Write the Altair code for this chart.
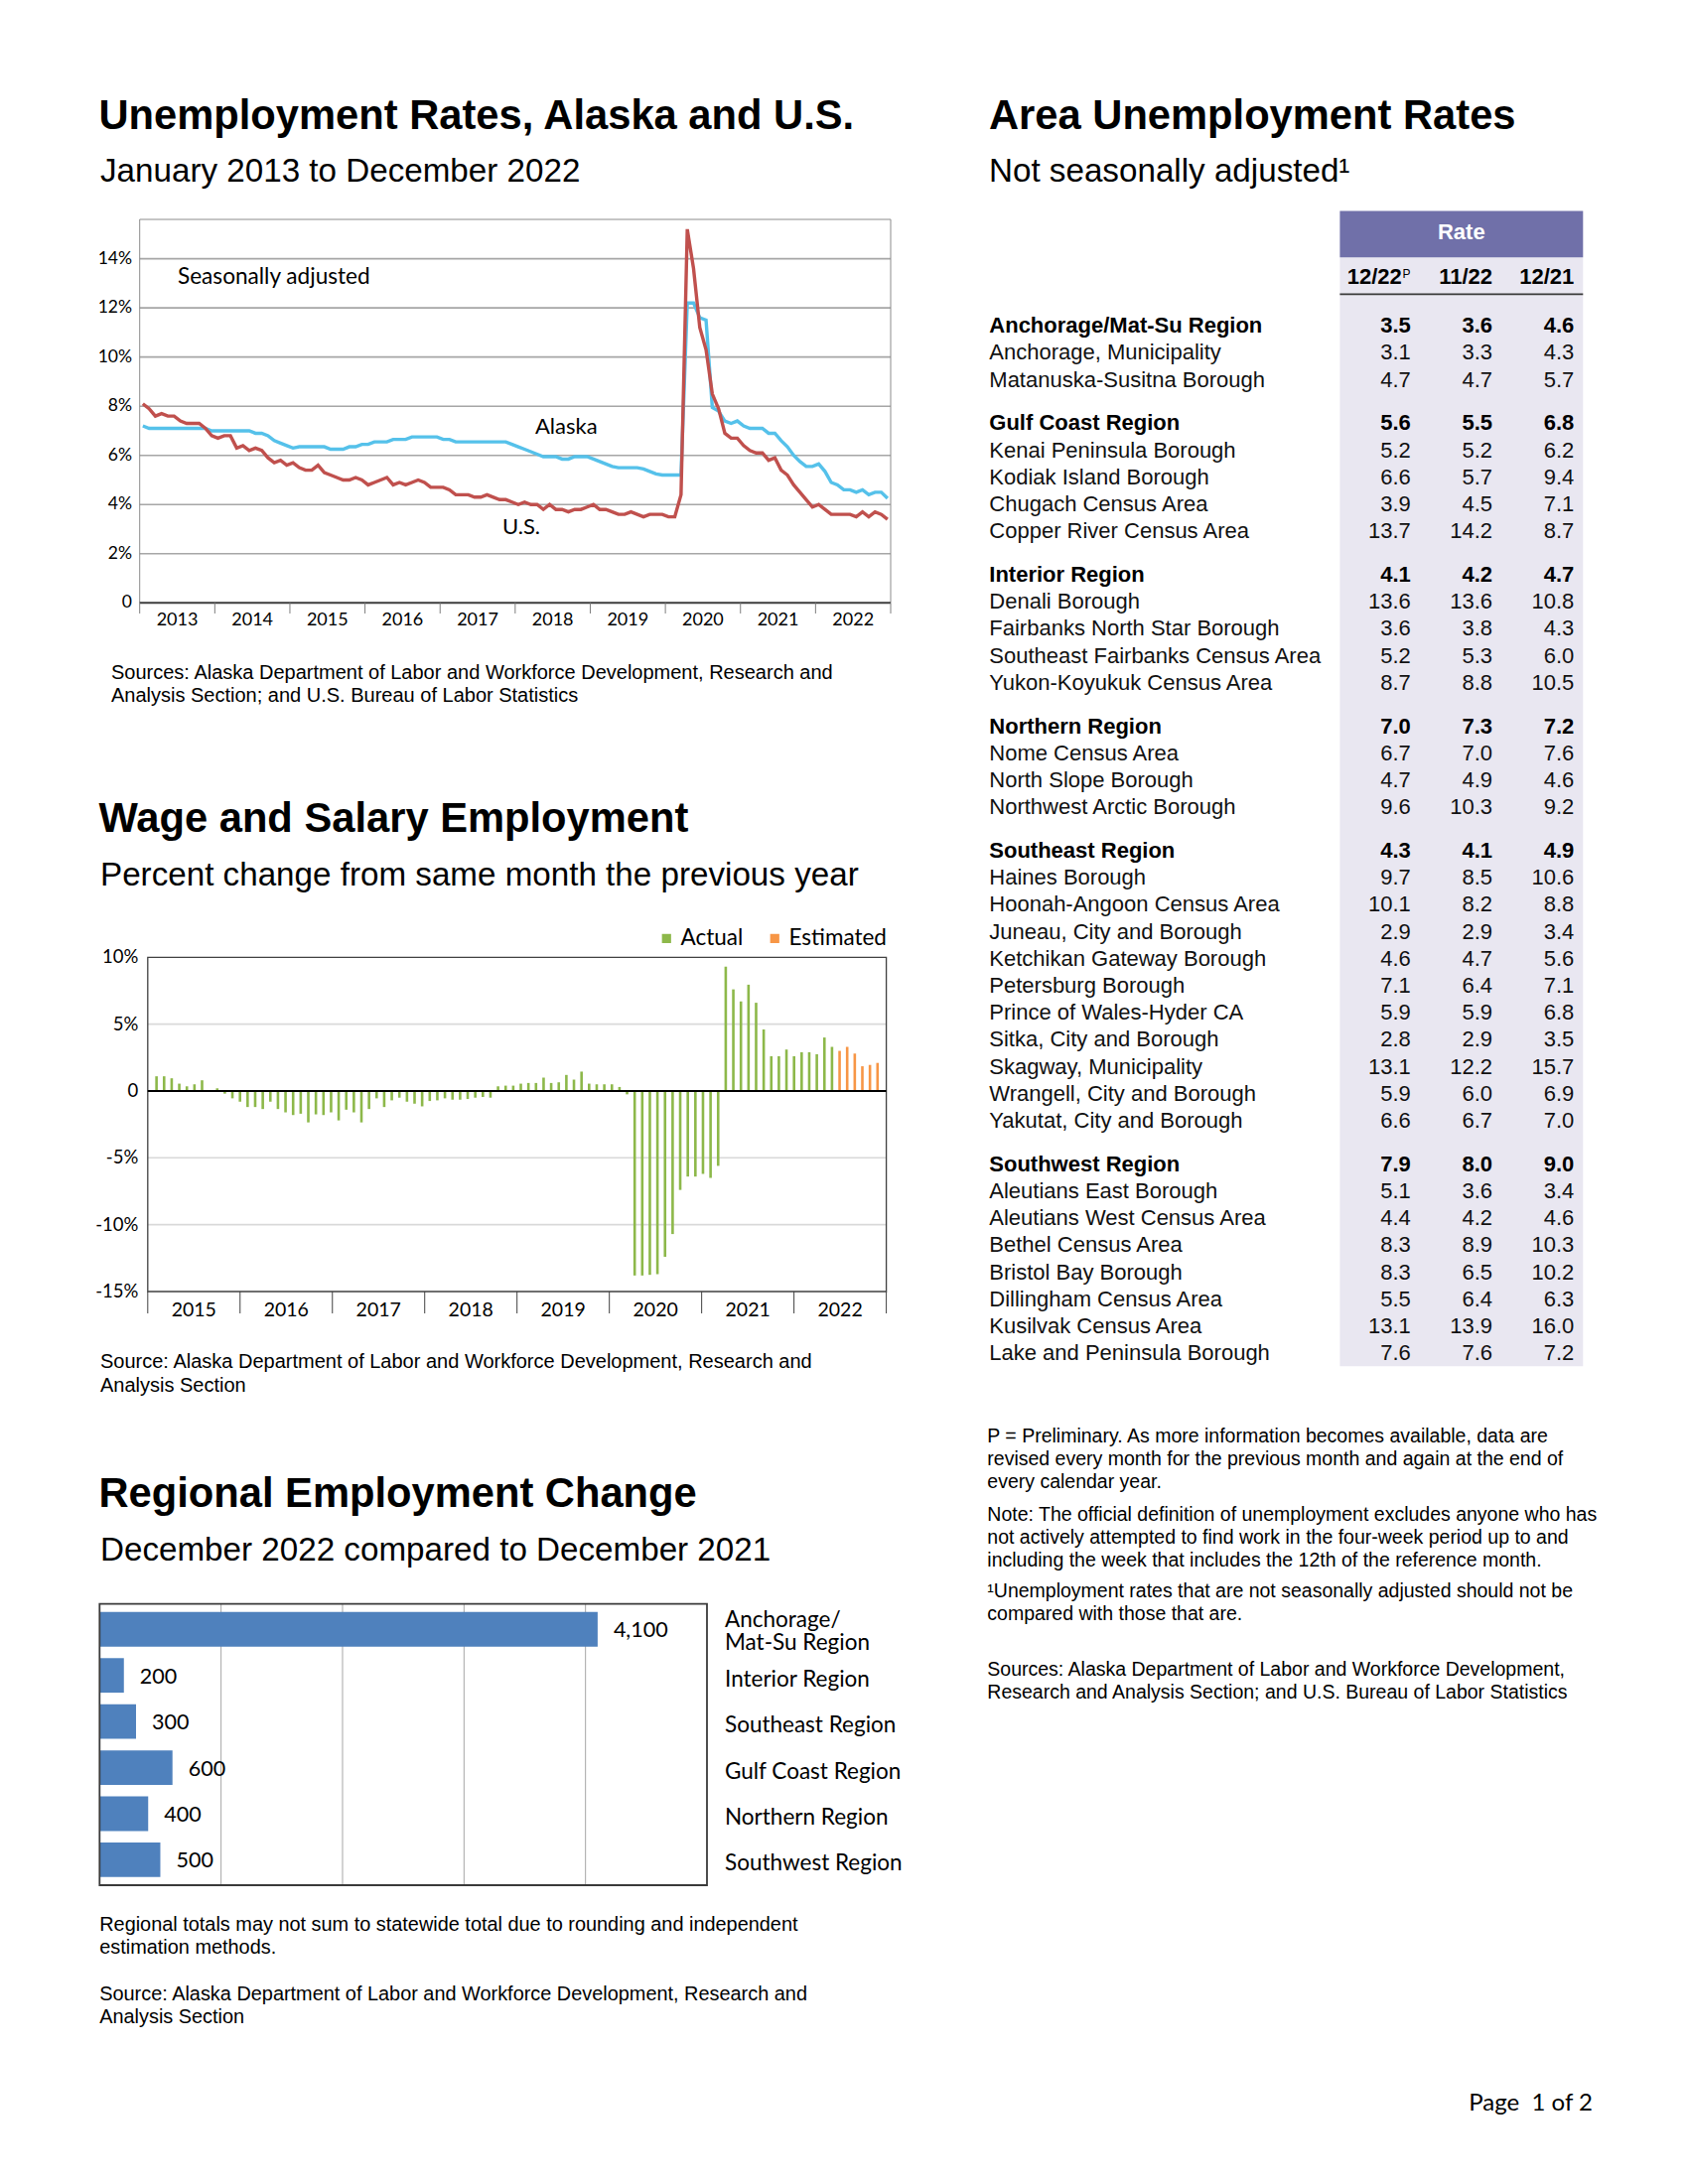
import altair as alt
import pandas as pd

OFF = 8  # page body margin


def P(v):
    return v - OFF


HEAD_FONT = "Liberation Sans"
CHART_FONT = "Lato"

# ---------------- Unemployment rates, Alaska and U.S. (monthly 2013-2022) ----------------
LINE_YEARS = [2013, 2014, 2015, 2016, 2017, 2018, 2019, 2020, 2021, 2022]
ALASKA_RATE = [
    7.2, 7.1, 7.1, 7.1, 7.1, 7.1, 7.1, 7.1, 7.1, 7.1, 7.1, 7.0,
    7.0, 7.0, 7.0, 7.0, 7.0, 7.0, 6.9, 6.9, 6.8, 6.6, 6.5, 6.4,
    6.3, 6.35, 6.35, 6.35, 6.35, 6.35, 6.25, 6.25, 6.25, 6.35, 6.35, 6.45,
    6.45, 6.55, 6.55, 6.55, 6.65, 6.65, 6.65, 6.75, 6.75, 6.75, 6.75, 6.75,
    6.65, 6.65, 6.55, 6.55, 6.55, 6.55, 6.55, 6.55, 6.55, 6.55, 6.55, 6.45,
    6.35, 6.25, 6.15, 6.05, 5.95, 5.95, 5.95, 5.85, 5.85, 5.95, 5.95, 5.95,
    5.85, 5.75, 5.65, 5.55, 5.5, 5.5, 5.5, 5.5, 5.45, 5.35, 5.25, 5.2,
    5.2, 5.2, 5.2, 12.2, 12.2, 11.6, 11.5, 7.95, 7.8, 7.4, 7.3, 7.4,
    7.2, 7.1, 7.1, 7.1, 6.9, 6.9, 6.6, 6.35, 6.0, 5.75, 5.55, 5.55,
    5.65, 5.35, 4.9, 4.8, 4.6, 4.6, 4.5, 4.6, 4.4, 4.5, 4.5, 4.25,
]
US_RATE = [
    8.1, 7.9, 7.6, 7.7, 7.6, 7.6, 7.4, 7.3, 7.3, 7.3, 7.1, 6.8,
    6.7, 6.8, 6.8, 6.3, 6.4, 6.2, 6.3, 6.2, 5.9, 5.7, 5.8, 5.6,
    5.7, 5.5, 5.4, 5.4, 5.6, 5.3, 5.2, 5.1, 5.0, 5.0, 5.1, 5.0,
    4.8, 4.9, 5.0, 5.1, 4.8, 4.9, 4.8, 4.9, 5.0, 4.9, 4.7, 4.7,
    4.7, 4.6, 4.4, 4.4, 4.4, 4.3, 4.3, 4.4, 4.3, 4.2, 4.2, 4.1,
    4.0, 4.1, 4.0, 4.0, 3.8, 4.0, 3.8, 3.8, 3.7, 3.8, 3.8, 3.9,
    4.0, 3.8, 3.8, 3.7, 3.6, 3.6, 3.7, 3.6, 3.5, 3.6, 3.6, 3.6,
    3.5, 3.5, 4.4, 15.2, 13.6, 11.2, 10.3, 8.5, 7.9, 6.9, 6.7, 6.7,
    6.4, 6.2, 6.1, 6.1, 5.8, 5.9, 5.4, 5.2, 4.8, 4.5, 4.2, 3.9,
    4.0, 3.8, 3.6, 3.6, 3.6, 3.6, 3.5, 3.7, 3.5, 3.7, 3.6, 3.4,
]
LINE_YTICKS = [0, 2, 4, 6, 8, 10, 12, 14]
LINE_YLABELS = ["0", "2%", "4%", "6%", "8%", "10%", "12%", "14%"]
LINE_YMAX = 15.6

# ---------------- Wage and salary employment, % change (monthly 2015-2022) ----------------
WAGE_YEARS = [2015, 2016, 2017, 2018, 2019, 2020, 2021, 2022]
WAGE_CHANGE = [
    1.1, 1.1, 0.95, 0.55, 0.35, 0.5, 0.8, 0.05, 0.2, -0.2, -0.55, -0.8,
    -1.2, -1.2, -1.35, -0.8, -1.35, -1.6, -1.8, -1.7, -2.35, -1.75, -1.8, -1.6,
    -2.2, -1.4, -1.6, -2.35, -1.35, -0.55, -1.2, -0.7, -0.5, -0.8, -0.95, -1.15,
    -0.75, -0.7, -0.55, -0.65, -0.65, -0.6, -0.5, -0.45, -0.5, 0.35, 0.4, 0.4,
    0.55, 0.6, 0.6, 1.0, 0.6, 0.65, 1.2, 0.85, 1.45, 0.55, 0.5, 0.5,
    0.5, 0.3, -0.25, -13.8, -13.8, -13.75, -13.7, -12.4, -10.7, -7.4, -6.4, -6.4,
    -6.2, -6.5, -5.6, 9.3, 7.6, 6.7, 7.95, 6.6, 4.6, 2.6, 2.6, 3.1,
    2.6, 2.9, 2.9, 2.75, 4.0, 3.3, 3.0, 3.3, 2.8, 1.85, 1.95, 2.1,
]
WAGE_ESTIMATED_COUNT = 6
WAGE_KINDS = ["Actual", "Estimated"]
WAGE_YTICKS = [10, 5, 0, -5, -10, -15]
WAGE_YLABELS = ["10%", "5%", "0", "-5%", "-10%", "-15%"]
WAGE_GRID = [5, -5, -10]

# ---------------- Regional employment change ----------------
REGIONS = ["Anchorage/Mat-Su Region", "Interior Region", "Southeast Region",
           "Gulf Coast Region", "Northern Region", "Southwest Region"]
REGION_NAMES_SHOWN = ["Anchorage/\nMat-Su Region", "Interior Region", "Southeast Region",
                      "Gulf Coast Region", "Northern Region", "Southwest Region"]
REGION_CHANGE = [4100, 200, 300, 600, 400, 500]
REGION_GRID = [1000, 2000, 3000, 4000]
REGION_XMAX = 5000

# ---------------- Area unemployment rates table ----------------
AREAS = [
    "Anchorage/Mat-Su Region", "Anchorage, Municipality", "Matanuska-Susitna Borough",
    "Gulf Coast Region", "Kenai Peninsula Borough", "Kodiak Island Borough",
    "Chugach Census Area", "Copper River Census Area",
    "Interior Region", "Denali Borough", "Fairbanks North Star Borough",
    "Southeast Fairbanks Census Area", "Yukon-Koyukuk Census Area",
    "Northern Region", "Nome Census Area", "North Slope Borough", "Northwest Arctic Borough",
    "Southeast Region", "Haines Borough", "Hoonah-Angoon Census Area", "Juneau, City and Borough",
    "Ketchikan Gateway Borough", "Petersburg Borough", "Prince of Wales-Hyder CA",
    "Sitka, City and Borough", "Skagway, Municipality", "Wrangell, City and Borough",
    "Yakutat, City and Borough",
    "Southwest Region", "Aleutians East Borough", "Aleutians West Census Area",
    "Bethel Census Area", "Bristol Bay Borough", "Dillingham Census Area",
    "Kusilvak Census Area", "Lake and Peninsula Borough",
]
IS_REGION = [1, 0, 0, 1, 0, 0, 0, 0, 1, 0, 0, 0, 0, 1, 0, 0, 0,
             1, 0, 0, 0, 0, 0, 0, 0, 0, 0, 0, 1, 0, 0, 0, 0, 0, 0, 0]
RATE_DEC22 = [3.5, 3.1, 4.7, 5.6, 5.2, 6.6, 3.9, 13.7, 4.1, 13.6, 3.6, 5.2, 8.7,
              7.0, 6.7, 4.7, 9.6, 4.3, 9.7, 10.1, 2.9, 4.6, 7.1, 5.9, 2.8, 13.1, 5.9, 6.6,
              7.9, 5.1, 4.4, 8.3, 8.3, 5.5, 13.1, 7.6]
RATE_NOV22 = [3.6, 3.3, 4.7, 5.5, 5.2, 5.7, 4.5, 14.2, 4.2, 13.6, 3.8, 5.3, 8.8,
              7.3, 7.0, 4.9, 10.3, 4.1, 8.5, 8.2, 2.9, 4.7, 6.4, 5.9, 2.9, 12.2, 6.0, 6.7,
              8.0, 3.6, 4.2, 8.9, 6.5, 6.4, 13.9, 7.6]
RATE_DEC21 = [4.6, 4.3, 5.7, 6.8, 6.2, 9.4, 7.1, 8.7, 4.7, 10.8, 4.3, 6.0, 10.5,
              7.2, 7.6, 4.6, 9.2, 4.9, 10.6, 8.8, 3.4, 5.6, 7.1, 6.8, 3.5, 15.7, 6.9, 7.0,
              9.0, 3.4, 4.6, 10.3, 10.2, 6.3, 16.0, 7.2]
TABLE_COLS = ["12/22", "11/22", "12/21"]
GROUP_GAP = 0.61  # extra space (in rows) between region groups

# ---------------- texts ----------------
TITLE_1 = "Unemployment Rates, Alaska and U.S."
SUB_1 = "January 2013 to December 2022"
SRC_1 = ["Sources: Alaska Department of Labor and Workforce Development, Research and",
         "Analysis Section; and U.S. Bureau of Labor Statistics"]
TITLE_2 = "Wage and Salary Employment"
SUB_2 = "Percent change from same month the previous year"
SRC_2 = ["Source: Alaska Department of Labor and Workforce Development, Research and",
         "Analysis Section"]
TITLE_3 = "Regional Employment Change"
SUB_3 = "December 2022 compared to December 2021"
NOTE_3 = ["Regional totals may not sum to statewide total due to rounding and independent",
          "estimation methods."]
SRC_3 = ["Source: Alaska Department of Labor and Workforce Development, Research and",
         "Analysis Section"]
TITLE_R = "Area Unemployment Rates"
SUB_R = "Not seasonally adjusted\u00b9"
NOTE_P = ["P = Preliminary. As more information becomes available, data are",
          "revised every month for the previous month and again at the end of",
          "every calendar year."]
NOTE_DEF = ["Note: The official definition of unemployment excludes anyone who has",
            "not actively attempted to find work in the four-week period up to and",
            "including the week that includes the 12th of the reference month."]
NOTE_1 = ["\u00b9Unemployment rates that are not seasonally adjusted should not be",
          "compared with those that are."]
SRC_R = ["Sources: Alaska Department of Labor and Workforce Development,",
         "Research and Analysis Section; and U.S. Bureau of Labor Statistics"]
PAGE = "Page \u00a01 of 2"

# ---------------- colours ----------------
AK_BLUE = "#55C1EA"
US_RED = "#C0504D"
GREEN = "#8DB84A"
ORANGE = "#F79646"
BAR_BLUE = "#4F81BD"
PURPLE = "#7070A9"
LAVENDER = "#E9E7F1"

ONE = pd.DataFrame({"k": [0]})


def text_at(text, x, y, size, weight="normal", font=HEAD_FONT, align="left",
            baseline="alphabetic", color="#000000", line_height=None):
    kw = dict(text=text, align=align, baseline=baseline, font=font, fontSize=size,
              fontWeight=weight, color=color)
    if line_height is not None:
        kw["lineHeight"] = line_height
    return alt.Chart(ONE).mark_text(**kw).encode(x=alt.value(P(x)), y=alt.value(P(y)))


def lin(dom, r0, r1):
    return alt.Scale(domain=dom, range=[P(r0), P(r1)], nice=False, zero=False)


def frame(xs, ys, xdom, ydom, color, width):
    df = pd.DataFrame({"x0": [xdom[0]], "x1": [xdom[1]], "y0": [ydom[0]], "y1": [ydom[1]]})
    return alt.Chart(df).mark_rect(fillOpacity=0, stroke=color, strokeWidth=width).encode(
        x=alt.X("x0:Q", scale=xs, axis=None), x2="x1:Q",
        y=alt.Y("y0:Q", scale=ys, axis=None), y2="y1:Q")


def hgrid(xs, ys, xdom, values, color, width):
    df = pd.DataFrame({"g": values, "x0": xdom[0], "x1": xdom[1]})
    return alt.Chart(df).mark_rule(color=color, strokeWidth=width).encode(
        y=alt.Y("g:Q", scale=ys, axis=None),
        x=alt.X("x0:Q", scale=xs, axis=None), x2="x1:Q")


layers = []

# ======================= Chart 1: line chart =======================
n_line = len(ALASKA_RATE)
LXD = [-0.5, n_line - 0.5]
LYD = [0, LINE_YMAX]
LX = lin(LXD, 140.7, 897)
LY = lin(LYD, 607.3, 221)

layers.append(text_at(TITLE_1, 99.5, 130, 41.7, weight="bold"))
layers.append(text_at(SUB_1, 101, 183, 33.2))
layers.append(hgrid(LX, LY, LXD, LINE_YTICKS[1:], "#A6A6A6", 1.6))
layers.append(frame(LX, LY, LXD, LYD, "#8C8C8C", 1))
layers.append(hgrid(LX, LY, LXD, [0], "#404040", 2))

line_df = pd.DataFrame({"m": list(range(n_line)), "ak": ALASKA_RATE, "us": US_RATE})
layers.append(alt.Chart(line_df).mark_line(color=AK_BLUE, strokeWidth=3.4).encode(
    x=alt.X("m:Q", scale=LX, axis=None), y=alt.Y("ak:Q", scale=LY, axis=None)))
layers.append(alt.Chart(line_df).mark_line(color=US_RED, strokeWidth=3.4).encode(
    x=alt.X("m:Q", scale=LX, axis=None), y=alt.Y("us:Q", scale=LY, axis=None)))

lyt = pd.DataFrame({"v": LINE_YTICKS, "lab": LINE_YLABELS})
layers.append(alt.Chart(lyt).mark_text(align="right", baseline="middle", font=CHART_FONT,
                                       fontSize=17.5, color="#000000").encode(
    y=alt.Y("v:Q", scale=LY, axis=None), x=alt.value(P(133)), text="lab:N"))
lxb = pd.DataFrame({"b": [i * 12 - 0.5 for i in range(len(LINE_YEARS) + 1)]})
layers.append(alt.Chart(lxb).mark_rule(color="#7F7F7F", strokeWidth=1).encode(
    x=alt.X("b:Q", scale=LX, axis=None), y=alt.value(P(607.3)), y2=alt.value(P(618))))
lxl = pd.DataFrame({"c": [i * 12 + 5.5 for i in range(len(LINE_YEARS))],
                    "lab": [str(y) for y in LINE_YEARS]})
layers.append(alt.Chart(lxl).mark_text(align="center", baseline="middle", font=CHART_FONT,
                                       fontSize=18, color="#000000").encode(
    x=alt.X("c:Q", scale=LX, axis=None), y=alt.value(P(625)), text="lab:N"))
layers.append(text_at("Seasonally adjusted", 179, 286, 22.6, font=CHART_FONT))
layers.append(text_at("Alaska", 539, 437, 22, font=CHART_FONT))
layers.append(text_at("U.S.", 506, 538, 22, font=CHART_FONT))
layers.append(text_at(SRC_1, 112, 684, 20, line_height=23.3))

# ======================= Chart 2: wage bars =======================
n_wage = len(WAGE_CHANGE)
WXD = [-0.5, n_wage - 0.5]
WYD = [-15, 10]
WX = lin(WXD, 148.8, 892.6)
WY = lin(WYD, 1301, 964.3)

layers.append(text_at(TITLE_2, 99.5, 838, 41.7, weight="bold"))
layers.append(text_at(SUB_2, 101, 892, 33.2))
layers.append(hgrid(WX, WY, WXD, WAGE_GRID, "#D9D9D9", 1.6))
wage_df = pd.DataFrame({
    "m": list(range(n_wage)),
    "v": WAGE_CHANGE,
    "kind": [WAGE_KINDS[0]] * (n_wage - WAGE_ESTIMATED_COUNT) + [WAGE_KINDS[1]] * WAGE_ESTIMATED_COUNT,
})
layers.append(alt.Chart(wage_df).mark_bar(size=2.6, orient="vertical").encode(
    x=alt.X("m:Q", scale=WX, axis=None),
    y=alt.Y("v:Q", scale=WY, axis=None),
    color=alt.Color("kind:N", scale=alt.Scale(domain=WAGE_KINDS, range=[GREEN, ORANGE]),
                    legend=alt.Legend(orient="none", legendX=P(660), legendY=P(934),
                                      direction="horizontal", title=None, symbolType="square",
                                      symbolSize=85, symbolStrokeWidth=0, labelFont=CHART_FONT,
                                      labelFontSize=22.5, labelColor="#000000", labelOffset=3,
                                      columnPadding=20, padding=0))))
layers.append(frame(WX, WY, WXD, WYD, "#404040", 1.3))
layers.append(hgrid(WX, WY, WXD, [0], "#000000", 2))
wyt = pd.DataFrame({"v": WAGE_YTICKS, "lab": WAGE_YLABELS})
layers.append(alt.Chart(wyt).mark_text(align="right", baseline="middle", font=CHART_FONT,
                                       fontSize=18.5, color="#000000").encode(
    y=alt.Y("v:Q", scale=WY, axis=None), x=alt.value(P(139.3)), text="lab:N"))
wxb = pd.DataFrame({"b": [i * 12 - 0.5 for i in range(len(WAGE_YEARS) + 1)]})
layers.append(alt.Chart(wxb).mark_rule(color="#404040", strokeWidth=1).encode(
    x=alt.X("b:Q", scale=WX, axis=None), y=alt.value(P(1301)), y2=alt.value(P(1323))))
wxl = pd.DataFrame({"c": [i * 12 + 5.5 for i in range(len(WAGE_YEARS))],
                    "lab": [str(y) for y in WAGE_YEARS]})
layers.append(alt.Chart(wxl).mark_text(align="center", baseline="middle", font=CHART_FONT,
                                       fontSize=19.5, color="#000000").encode(
    x=alt.X("c:Q", scale=WX, axis=None), y=alt.value(P(1320)), text="lab:N"))
layers.append(text_at(SRC_2, 101, 1378.3, 20, line_height=23.6))

# ======================= Chart 3: regional bars =======================
RXD = [0, REGION_XMAX]
RX = lin(RXD, 100.3, 712)
RY = alt.Scale(type="band", domain=REGIONS, range=[P(1615.7), P(1899)],
               paddingInner=0.25, paddingOuter=0.175)

layers.append(text_at(TITLE_3, 99.5, 1518, 41.7, weight="bold"))
layers.append(text_at(SUB_3, 101, 1571.5, 33.2))
rgrid = pd.DataFrame({"g": REGION_GRID})
layers.append(alt.Chart(rgrid).mark_rule(color="#A6A6A6", strokeWidth=1).encode(
    x=alt.X("g:Q", scale=RX, axis=None), y=alt.value(P(1615.7)), y2=alt.value(P(1899))))
reg_df = pd.DataFrame({"r": REGIONS, "v": REGION_CHANGE, "name": REGION_NAMES_SHOWN,
                       "multi": [1 if "\n" in s else 0 for s in REGION_NAMES_SHOWN]})
layers.append(alt.Chart(reg_df).mark_bar(color=BAR_BLUE, orient="horizontal").encode(
    x=alt.X("v:Q", scale=RX, axis=None), y=alt.Y("r:N", scale=RY, axis=None)))
rframe = pd.DataFrame({"x0": [RXD[0]], "x1": [RXD[1]]})
layers.append(alt.Chart(rframe).mark_rect(fillOpacity=0, stroke="#3A3A3A", strokeWidth=1.8).encode(
    x=alt.X("x0:Q", scale=RX, axis=None), x2="x1:Q",
    y=alt.value(P(1615.7)), y2=alt.value(P(1899))))
layers.append(alt.Chart(reg_df).mark_text(align="left", baseline="middle", dx=16, dy=2,
                                          font=CHART_FONT, fontSize=21.5, color="#000000").encode(
    x=alt.X("v:Q", scale=RX, axis=None), y=alt.Y("r:N", scale=RY, axis=None),
    text=alt.Text("v:Q", format=",")))
layers.append(alt.Chart(reg_df).transform_filter("datum.multi == 0").mark_text(
    align="left", baseline="middle", dy=4, font=CHART_FONT, fontSize=22.5,
    color="#000000").encode(
    x=alt.value(P(730)), y=alt.Y("r:N", scale=RY, axis=None), text="name:N"))
layers.append(alt.Chart(reg_df).transform_filter("datum.multi == 1").mark_text(
    align="left", baseline="middle", dy=-9, lineBreak="\n", lineHeight=23,
    font=CHART_FONT, fontSize=22.5, color="#000000").encode(
    x=alt.value(P(730)), y=alt.Y("r:N", scale=RY, axis=None), text="name:N"))
layers.append(text_at(NOTE_3, 100.2, 1944.8, 19.9, line_height=23.4))
layers.append(text_at(SRC_3, 100.2, 2014.8, 19.9, line_height=23.4))

# ======================= Table =======================
layers.append(text_at(TITLE_R, 996, 130, 41.7, weight="bold"))
layers.append(text_at(SUB_R, 996, 183, 33.2))

layers.append(alt.Chart(ONE).mark_rect(color=LAVENDER).encode(
    x=alt.value(P(1349.4)), x2=alt.value(P(1594.3)), y=alt.value(P(259.3)), y2=alt.value(P(1376.3))))
layers.append(alt.Chart(ONE).mark_rect(color=PURPLE).encode(
    x=alt.value(P(1349.4)), x2=alt.value(P(1594.3)), y=alt.value(P(212.6)), y2=alt.value(P(259.3))))
layers.append(text_at("Rate", 1471.8, 234.4, 22, weight="bold", align="center",
                      baseline="middle", color="#FFFFFF"))
layers.append(alt.Chart(ONE).mark_rule(color="#3A3A3A", strokeWidth=1.6).encode(
    x=alt.value(P(1349.4)), x2=alt.value(P(1594.3)), y=alt.value(P(296.4))))

TX = alt.Scale(type="point", domain=TABLE_COLS, range=[P(1420.8), P(1585.3)], padding=0)
head_df = pd.DataFrame({"c": TABLE_COLS, "first": [1, 0, 0]})
layers.append(alt.Chart(head_df).transform_filter("datum.first == 1").mark_text(
    align="right", baseline="middle", dx=-9, font=HEAD_FONT, fontSize=22, fontWeight="bold",
    color="#000000").encode(x=alt.X("c:N", scale=TX, axis=None), y=alt.value(P(278.5)), text="c:N"))
layers.append(alt.Chart(head_df).transform_filter("datum.first == 0").mark_text(
    align="right", baseline="middle", font=HEAD_FONT, fontSize=22, fontWeight="bold",
    color="#000000").encode(x=alt.X("c:N", scale=TX, axis=None), y=alt.value(P(278.5)), text="c:N"))
layers.append(text_at("P", 1412.5, 280, 12))

grp, pos = [], []
g = -1
for i, f in enumerate(IS_REGION):
    if f:
        g += 1
    grp.append(g)
    pos.append(i + GROUP_GAP * g)
n_rows = len(AREAS)
TYD = [0, (n_rows - 1) + GROUP_GAP * g]
TY = lin(TYD, 328.2, 328.2 + 27.2 * TYD[1])

rows = pd.DataFrame({"name": AREAS, "bold": IS_REGION, "pos": pos})
layers.append(alt.Chart(rows).transform_filter("datum.bold == 0").mark_text(
    align="left", baseline="middle", font=HEAD_FONT, fontSize=22, color="#111111").encode(
    x=alt.value(P(996.3)), y=alt.Y("pos:Q", scale=TY, axis=None), text="name:N"))
layers.append(alt.Chart(rows).transform_filter("datum.bold == 1").mark_text(
    align="left", baseline="middle", font=HEAD_FONT, fontSize=22, fontWeight="bold",
    color="#000000").encode(
    x=alt.value(P(996.3)), y=alt.Y("pos:Q", scale=TY, axis=None), text="name:N"))

vals = pd.DataFrame({
    "pos": pos * 3,
    "bold": IS_REGION * 3,
    "col": [TABLE_COLS[0]] * n_rows + [TABLE_COLS[1]] * n_rows + [TABLE_COLS[2]] * n_rows,
    "v": RATE_DEC22 + RATE_NOV22 + RATE_DEC21,
})
layers.append(alt.Chart(vals).transform_filter("datum.bold == 0").mark_text(
    align="right", baseline="middle", font=HEAD_FONT, fontSize=22, color="#111111").encode(
    x=alt.X("col:N", scale=TX, axis=None), y=alt.Y("pos:Q", scale=TY, axis=None),
    text=alt.Text("v:Q", format=".1f")))
layers.append(alt.Chart(vals).transform_filter("datum.bold == 1").mark_text(
    align="right", baseline="middle", font=HEAD_FONT, fontSize=22, fontWeight="bold",
    color="#000000").encode(
    x=alt.X("col:N", scale=TX, axis=None), y=alt.Y("pos:Q", scale=TY, axis=None),
    text=alt.Text("v:Q", format=".1f")))

layers.append(text_at(NOTE_P, 994.3, 1452.5, 19.5, line_height=23.3))
layers.append(text_at(NOTE_DEF, 994.3, 1531.5, 19.5, line_height=23.3))
layers.append(text_at(NOTE_1, 994.3, 1609.2, 19.5, line_height=23.3))
layers.append(text_at(SRC_R, 994.3, 1688.2, 19.5, line_height=23.3))

layers.append(text_at(PAGE, 1479.3, 2119.3, 24, font=CHART_FONT, baseline="middle"))

chart = alt.layer(*layers).resolve_scale(
    x="independent", y="independent", color="independent"
).properties(
    width=1684, height=2184, padding=0,
    autosize=alt.AutoSizeParams(type="none"),
    background="white",
).configure_view(stroke=None)

chart.save("out.html", embed_options={"renderer": "svg", "actions": False})
